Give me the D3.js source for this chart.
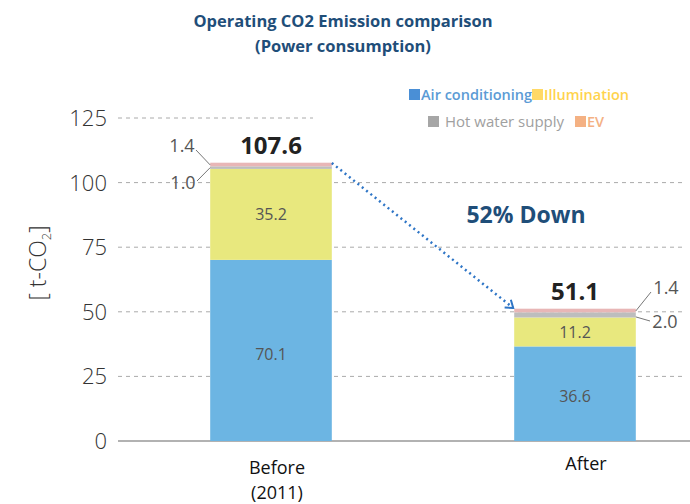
<!DOCTYPE html>
<html>
<head>
<meta charset="utf-8">
<script src="https://cdn.jsdelivr.net/npm/d3@7"></script>
<style>
  body { margin: 0; background: #fff; }
  text { font-family: "Open Sans", sans-serif; }
</style>
</head>
<body>
<div id="chart"></div>
<script>
// data
const categories = ["Before", "After"];
const categoryLines = [["Before", "(2011)"], ["After"]];
const seriesNames = ["Air conditioning", "Illumination", "Hot water supply", "EV"];
const airConditioning = [70.1, 36.6];
const illumination = [35.2, 11.2];
const hotWater = [1.0, 2.0];
const ev = [1.4, 1.4];
const totals = [107.6, 51.1];
const yTicks = [0, 25, 50, 75, 100, 125];

const barColors = ["#6cb5e3", "#e8e87e", "#bdbdbd", "#e8b6b6"];
const legendColors = ["#4a8fd6", "#ffd966", "#a6a6a6", "#f4b183"];
const legendText = ["#5b9bd5", "#ffd34d", "#a0a0a0", "#f4b183"];

const W = 690, H = 504;
const svg = d3.select("#chart").append("svg")
    .attr("width", W).attr("height", H);

const y = d3.scaleLinear().domain([0, 125]).range([441, 118]);
const x = d3.scaleBand().domain(categories).range([119, 727]).paddingInner(0.6).paddingOuter(0.3);

// title
svg.append("text").attr("x", 343).attr("y", 27).attr("text-anchor", "middle")
    .style("font-size", "16.5px").style("font-weight", "bold").style("fill", "#1f4e79")
    .text("Operating CO2 Emission comparison");
svg.append("text").attr("x", 343).attr("y", 52).attr("text-anchor", "middle")
    .style("font-size", "16.5px").style("font-weight", "bold").style("fill", "#1f4e79")
    .text("(Power consumption)");

// gridlines
yTicks.forEach(function(t) {
    if (t === 0) return;
    svg.append("line")
        .attr("x1", 118).attr("x2", t === 125 ? 313 : 686)
        .attr("y1", y(t)).attr("y2", y(t))
        .style("stroke", "#aaa").style("stroke-width", 1)
        .style("stroke-dasharray", "4,4");
});
// baseline
svg.append("line").attr("x1", 118).attr("x2", 690)
    .attr("y1", y(0)).attr("y2", y(0))
    .style("stroke", "#999").style("stroke-width", 1.5);

// y axis tick labels
svg.selectAll(".ytick").data(yTicks).enter().append("text")
    .attr("class", "ytick")
    .attr("x", 107).attr("y", function(d) { return y(d) + 8; })
    .attr("text-anchor", "end")
    .style("font-size", "22px").style("font-weight", 300).style("fill", "#333")
    .text(function(d) { return d; });

// y axis label
const yl = svg.append("text")
    .attr("transform", "translate(46," + 263 + ") rotate(-90)")
    .attr("text-anchor", "middle")
    .style("font-size", "23px").style("font-weight", 300).style("fill", "#333");
yl.append("tspan").text("[ t-CO");
yl.append("tspan").style("font-size", "13px").attr("dy", 5).text("2");
yl.append("tspan").attr("dy", -5).text("]");

// stacked bars
const stackData = categories.map(function(c, i) {
    return { cat: c, "Air conditioning": airConditioning[i], "Illumination": illumination[i],
             "Hot water supply": hotWater[i], "EV": ev[i] };
});
const stacked = d3.stack().keys(seriesNames)(stackData);

stacked.forEach(function(layer, li) {
    svg.selectAll(".bar" + li).data(layer).enter().append("rect")
        .attr("x", function(d) { return x(d.data.cat); })
        .attr("width", x.bandwidth())
        .attr("y", function(d) { return y(d[1]); })
        .attr("height", function(d) { return y(d[0]) - y(d[1]); })
        .style("fill", barColors[li]);
});

// inside labels (air conditioning and illumination)
[0, 1].forEach(function(li) {
    svg.selectAll(".in" + li).data(stacked[li]).enter().append("text")
        .attr("x", function(d) { return x(d.data.cat) + x.bandwidth() / 2; })
        .attr("y", function(d) { return li === 0 ? y(d[0]) - (y(d[0]) - y(d[1])) * 0.48 + 6 : y((d[0] + d[1]) / 2) + 6; })
        .attr("text-anchor", "middle")
        .style("font-size", "16px").style("fill", "#555")
        .text(function(d) { return d3.format(".1f")(d[1] - d[0]); });
});

// totals
svg.selectAll(".total").data(categories).enter().append("text")
    .attr("x", function(d) { return x(d) + x.bandwidth() / 2; })
    .attr("y", function(d, i) { return y(totals[i]) - 9; })
    .attr("text-anchor", "middle")
    .style("font-size", "24px").style("font-weight", "bold").style("fill", "#222")
    .text(function(d, i) { return d3.format(".1f")(totals[i]); });

// small labels with leader lines
const small = [
    { i: 0, v: ev[0], lx: 182, ly: 152, side: "left", ay: y(totals[0]) + 2, ty: 150 },
    { i: 0, v: hotWater[0], lx: 183, ly: 189, side: "left", ay: y(airConditioning[0] + illumination[0] + hotWater[0] / 2), ty: 181 },
    { i: 1, v: ev[1], lx: 666, ly: 294, side: "right", ay: y(totals[1]) + 2, ty: 292 },
    { i: 1, v: hotWater[1], lx: 665, ly: 328, side: "right", ay: y(airConditioning[1] + illumination[1] + hotWater[1] / 2) + 2, ty: 321 }
];
small.forEach(function(s) {
    const c = categories[s.i];
    const ax = s.side === "left" ? x(c) : x(c) + x.bandwidth();
    const tx = s.side === "left" ? s.lx + 14 : s.lx - 15;
    svg.append("line")
        .attr("x1", ax).attr("y1", s.ay)
        .attr("x2", tx).attr("y2", s.ty)
        .style("stroke", "#777").style("stroke-width", 1);
    svg.append("text")
        .attr("x", s.lx).attr("y", s.ly)
        .attr("text-anchor", "middle")
        .style("font-size", "18px").style("fill", "#555")
        .text(d3.format(".1f")(s.v));
});

// category labels
categoryLines.forEach(function(lines, i) {
    lines.forEach(function(l, j) {
        svg.append("text")
            .attr("x", x(categories[i]) + x.bandwidth() / 2 + (i === 0 ? 6 : 11))
            .attr("y", (i === 0 ? 474 : 470) + j * 25)
            .attr("text-anchor", "middle")
            .style("font-size", "18px").style("fill", "#111")
            .text(l);
    });
});

// arrow
svg.append("defs").append("marker")
    .attr("id", "arrow")
    .attr("markerWidth", 12).attr("markerHeight", 12)
    .attr("refX", 8).attr("refY", 6)
    .attr("orient", "auto").attr("markerUnits", "userSpaceOnUse")
    .append("path")
    .attr("d", "M1,1 L8,6 L1,11")
    .style("fill", "none").style("stroke", "#2e75c6").style("stroke-width", 2);

svg.append("line")
    .attr("x1", x("Before") + x.bandwidth()).attr("y1", y(totals[0]))
    .attr("x2", x("After") - 1).attr("y2", y(totals[1]) - 1)
    .style("stroke", "#2e75c6").style("stroke-width", 2.5)
    .style("stroke-dasharray", "2,3.5")
    .attr("marker-end", "url(#arrow)");

// 52% Down
svg.append("text").attr("x", 526).attr("y", 223).attr("text-anchor", "middle")
    .style("font-size", "23px").style("font-weight", "bold").style("fill", "#1f4e79")
    .text("52% Down");

// legend
const legendItems = [
    { name: "Air conditioning", x: 409, y: 100, c: 0 },
    { name: "Illumination", x: 532, y: 100, c: 1 },
    { name: "Hot water supply", x: 428, y: 127, c: 2 },
    { name: "EV", x: 575, y: 127, c: 3 }
];
legendItems.forEach(function(d) {
    svg.append("rect").attr("x", d.x).attr("y", d.y - 11)
        .attr("width", 11).attr("height", 11).style("fill", legendColors[d.c]);
    svg.append("text").attr("x", d.x + (d.c === 2 ? 17 : 12)).attr("y", d.y)
        .style("font-size", d.c === 2 ? "15px" : "14.5px").style("font-weight", d.c === 2 ? "normal" : 600)
        .style("fill", legendText[d.c])
        .text(d.name);
});
</script>
</body>
</html>
